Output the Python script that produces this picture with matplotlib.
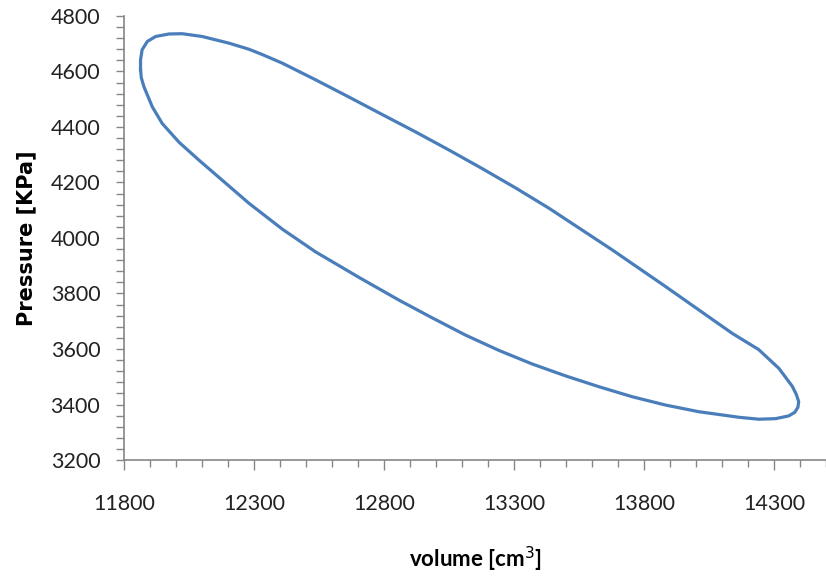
import matplotlib
matplotlib.use("Agg")
import matplotlib.pyplot as plt
from matplotlib.ticker import MultipleLocator

# p-V loop (volume cm^3, pressure kPa)
volume = [11864, 11864, 11870, 11890, 11922, 11973, 12024, 12101, 12204,
          12281, 12332, 12409, 12537, 12665, 12793, 12922, 13050, 13178,
          13307, 13435, 13678, 13883, 14076, 14140, 14241, 14319, 14370,
          14386, 14395, 14392, 14380, 14357, 14306, 14242, 14165, 14088,
          14011, 13883, 13755, 13627, 13499, 13370, 13242, 13114, 12986,
          12858, 12704, 12537, 12409, 12281, 12088, 12012, 11947, 11909,
          11877, 11867, 11864]
pressure = [4606, 4642, 4678, 4708, 4726, 4735, 4736, 4726, 4702,
            4680, 4661, 4630, 4570, 4508, 4445, 4382, 4317, 4250,
            4180, 4107, 3957, 3825, 3698, 3656, 3598, 3530, 3466,
            3436, 3410, 3390, 3372, 3359, 3349, 3347, 3354, 3364,
            3374, 3398, 3428, 3464, 3503, 3546, 3595, 3650, 3712,
            3776, 3858, 3950, 4032, 4125, 4281, 4345, 4413, 4473,
            4545, 4577, 4606]

x_ticks = [11800, 12300, 12800, 13300, 13800, 14300]
y_ticks = [3200, 3400, 3600, 3800, 4000, 4200, 4400, 4600, 4800]

tick_font = ['Lato', 'DejaVu Sans']
grey = '#868686'

plt.rcParams['xtick.major.pad'] = 17
plt.rcParams['ytick.major.pad'] = 11

fig = plt.figure(figsize=(8.26, 5.82), dpi=100)
ax = fig.add_axes([0.150, 0.2096, 0.850, 0.763])

ax.plot(volume, pressure, color='#4a7ebb', lw=2.3, solid_joinstyle='round')

ax.set_xlim(11800, 14500)
ax.set_ylim(3200, 4800)
ax.set_xticks(x_ticks)
ax.set_yticks(y_ticks)
ax.xaxis.set_minor_locator(MultipleLocator(100))
ax.yaxis.set_minor_locator(MultipleLocator(40))

for s in ['top', 'right']:
    ax.spines[s].set_visible(False)
for s in ['left', 'bottom']:
    ax.spines[s].set_color(grey)
    ax.spines[s].set_linewidth(1.2)

ax.tick_params(axis='x', which='major', length=7.5, width=1, color=grey)
ax.tick_params(axis='x', which='minor', length=5, width=1, color=grey)
ax.tick_params(axis='y', which='both', length=6, width=1, color=grey)
for lab in ax.get_xticklabels() + ax.get_yticklabels():
    lab.set_family(tick_font)
    lab.set_fontsize(15.5)
    lab.set_color('#222222')

ax.set_xlabel('volume [cm$^3$]', family=tick_font, fontsize=16,
              fontweight='bold', labelpad=22)
ax.set_ylabel('Pressure [KPa]', fontsize=15, fontweight='bold', labelpad=10)

fig.savefig('out.png', dpi=100)
